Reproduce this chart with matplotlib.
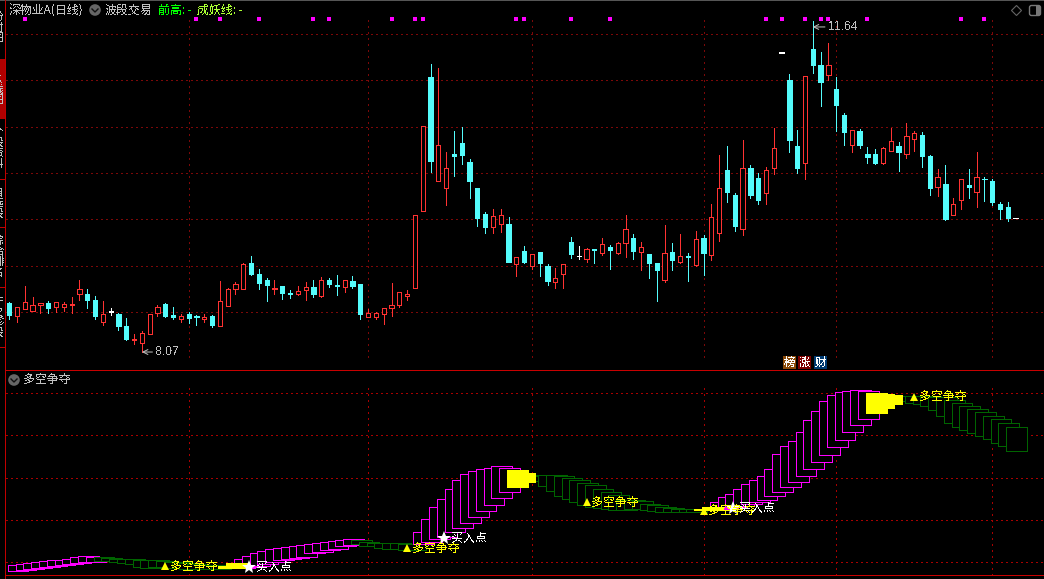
import matplotlib
matplotlib.use('Agg')
import matplotlib.pyplot as plt
from matplotlib.patches import Circle, Rectangle, Polygon, FancyBboxPatch

plt.rcParams['font.family'] = ['Noto Sans CJK SC', 'DejaVu Sans']
plt.rcParams['text.antialiased'] = False

# daily candles, one row per session
opens = [8.60, 8.46, 8.53, 8.51, 8.58, 8.60, 8.55, 8.55, 8.58, 8.69,
         8.69, 8.63, 8.39, 8.50, 8.48, 8.35, 8.20, 8.16, 8.26, 8.49,
         8.59, 8.47, 8.42, 8.48, 8.46, 8.42, 8.46, 8.35, 8.56, 8.75,
         8.75, 9.03, 8.91, 8.85, 8.75, 8.78, 8.70, 8.69, 8.74, 8.77,
         8.67, 8.84, 8.79, 8.77, 8.83, 8.80, 8.44, 8.45, 8.48, 8.54,
         8.58, 8.67, 8.76, 9.59, 11.04, 9.91, 9.84, 10.20, 10.32, 10.12,
         9.84, 9.56, 9.42, 9.45, 9.45, 9.02, 9.16, 9.00, 9.15, 9.00,
         8.82, 8.91, 9.26, 9.10, 9.07, 9.18, 9.14, 9.20, 9.14, 9.24,
         9.30, 9.15, 9.12, 9.03, 8.84, 9.15, 9.04, 9.10, 9.01, 9.30,
         9.11, 9.35, 10.03, 9.76, 9.39, 10.05, 9.95, 9.78, 10.05, 11.30,
         11.00, 10.29, 10.11, 11.34, 11.17, 11.06, 10.91, 10.63, 10.30, 10.45,
         10.21, 10.20, 10.11, 10.24, 10.29, 10.20, 10.37, 10.41, 10.18, 9.85,
         9.88, 9.55, 9.71, 9.87, 9.79, 9.94, 9.91, 9.66, 9.63, 9.51]
highs = [8.61, 8.55, 8.78, 8.66, 8.60, 8.62, 8.61, 8.61, 8.66, 8.85,
         8.75, 8.67, 8.62, 8.54, 8.49, 8.43, 8.26, 8.29, 8.48, 8.57,
         8.60, 8.55, 8.48, 8.50, 8.47, 8.48, 8.47, 8.83, 8.76, 8.82,
         9.03, 9.10, 8.96, 8.87, 8.84, 8.78, 8.74, 8.78, 8.82, 8.84,
         8.88, 8.87, 8.90, 8.85, 8.89, 8.80, 8.53, 8.50, 8.54, 8.81,
         8.71, 8.74, 9.55, 10.51, 11.18, 11.13, 10.23, 10.45, 10.50, 10.15,
         9.84, 9.58, 9.61, 9.61, 9.52, 9.09, 9.21, 9.13, 9.15, 9.02,
         8.97, 9.02, 9.31, 9.21, 9.19, 9.18, 9.30, 9.22, 9.26, 9.55,
         9.34, 9.26, 9.12, 9.03, 9.44, 9.24, 9.34, 9.14, 9.37, 9.33,
         9.66, 10.19, 10.29, 9.78, 10.36, 10.09, 10.00, 10.07, 10.49, 11.30,
         11.07, 10.46, 11.05, 11.64, 11.31, 11.40, 11.04, 10.65, 10.46, 10.47,
         10.28, 10.26, 10.28, 10.49, 10.33, 10.54, 10.45, 10.44, 10.19, 10.04,
         10.09, 9.73, 9.93, 10.04, 10.23, 9.96, 9.94, 9.69, 9.69, 9.51]
lows = [8.42, 8.39, 8.53, 8.51, 8.49, 8.49, 8.50, 8.51, 8.49, 8.63,
        8.54, 8.42, 8.36, 8.47, 8.30, 8.20, 8.15, 8.07, 8.26, 8.46,
        8.44, 8.42, 8.39, 8.38, 8.36, 8.39, 8.34, 8.35, 8.56, 8.69,
        8.75, 8.90, 8.75, 8.62, 8.69, 8.64, 8.65, 8.68, 8.63, 8.66,
        8.66, 8.77, 8.68, 8.72, 8.76, 8.42, 8.44, 8.42, 8.37, 8.46,
        8.55, 8.63, 8.76, 9.59, 10.01, 9.91, 9.65, 9.97, 10.10, 9.73,
        9.43, 9.35, 9.35, 9.36, 9.04, 8.89, 9.03, 8.96, 8.89, 8.79,
        8.76, 8.76, 9.08, 9.07, 9.04, 9.03, 9.11, 8.96, 9.13, 9.09,
        9.07, 8.95, 8.87, 8.62, 8.82, 8.95, 9.03, 8.83, 9.00, 8.90,
        9.06, 9.27, 9.69, 9.37, 9.33, 9.73, 9.66, 9.66, 9.99, 11.30,
        10.23, 10.00, 9.93, 11.08, 10.72, 11.00, 10.45, 10.30, 10.23, 10.27,
        10.11, 10.10, 10.10, 10.24, 10.02, 10.16, 10.24, 10.06, 9.76, 9.75,
        9.49, 9.55, 9.61, 9.73, 9.63, 9.70, 9.65, 9.50, 9.48, 9.51]
closes = [8.47, 8.55, 8.61, 8.58, 8.60, 8.54, 8.61, 8.59, 8.59, 8.75,
          8.63, 8.46, 8.48, 8.50, 8.35, 8.21, 8.21, 8.27, 8.48, 8.55,
          8.46, 8.45, 8.46, 8.43, 8.45, 8.44, 8.36, 8.62, 8.75, 8.80,
          9.02, 8.91, 8.81, 8.79, 8.76, 8.70, 8.69, 8.73, 8.77, 8.69,
          8.85, 8.80, 8.78, 8.85, 8.78, 8.48, 8.49, 8.49, 8.54, 8.58,
          8.71, 8.69, 9.55, 10.51, 10.13, 10.30, 10.05, 10.18, 10.19, 9.91,
          9.51, 9.42, 9.54, 9.55, 9.04, 9.09, 9.04, 9.13, 9.03, 8.83,
          8.87, 9.02, 9.12, 9.10, 9.18, 9.17, 9.23, 9.17, 9.24, 9.39,
          9.16, 9.20, 9.03, 8.95, 9.14, 9.06, 9.10, 9.09, 9.29, 9.14,
          9.52, 9.84, 9.80, 9.43, 10.05, 9.76, 9.71, 10.03, 10.27, 11.30,
          10.36, 10.05, 11.05, 11.17, 10.98, 11.17, 10.73, 10.44, 10.46, 10.30,
          10.17, 10.11, 10.27, 10.35, 10.23, 10.40, 10.43, 10.18, 9.84, 9.96,
          9.50, 9.66, 9.93, 9.85, 9.96, 9.93, 9.69, 9.61, 9.51, 9.51]

signal_days = [2, 24, 27, 32, 39, 41, 49, 52, 53, 65, 66, 72, 77, 97, 99, 102,
               104, 105, 110, 122, 125]
price_levels = [11.5, 11.0, 10.5, 10.0, 9.5, 9.0, 8.5]
month_lines = [23, 46, 67, 89, 106, 126]

# 多空争夺 indicator boxes
box_top = [-1.58, -1.1, -0.63, -0.16, 0.32, 0.79, 0.79, 1.27, 2.21, 2.69,
           2.21, 2.21, 1.9, 1.27, 1.27, 1.27, 0.79, 0.79, 0.79, 0.32,
           0.0, 0.0, -0.47, -0.95, -1.26, -1.58, -1.58, -1.89, -0.63, 1.27,
           2.85, 4.11, 5.06, 6.0, 6.48, 6.95, 7.43, 7.9, 8.38, 8.85,
           9.32, 9.8, 10.27, 10.75, 10.27, 9.3, 8.85, 8.85, 8.85, 8.85,
           8.38, 8.7, 14.22, 20.38, 26.07, 29.86, 34.6, 38.87, 41.71, 43.14,
           44.08, 44.56, 45.5, 44.56, 43.6, 42.19, 41.24, 40.77, 41.24, 41.24,
           40.77, 39.82, 38.87, 37.45, 36.5, 34.6, 33.18, 31.76, 29.39, 29.39,
           29.07, 27.5, 27.02, 26.07, 25.6, 25.12, 25.12, 24.97, 24.97, 26.07,
           28.28, 30.65, 32.08, 34.45, 36.82, 38.71, 40.61, 43.93, 51.0, 54.83,
           57.2, 61.46, 67.15, 71.42, 76.16, 79.0, 80.42, 81.05, 81.37, 80.9,
           80.11, 79.63, 79.16, 78.7, 78.7, 78.7, 78.7, 78.7, 78.37, 78.05,
           76.79, 75.37, 73.95, 72.52, 71.1, 69.05, 67.63, 65.73, 64.0]
box_bottom = [-4.42, -3.8, -3.3, -2.84, -2.37, -1.89, -1.58, -1.1, -0.63, -0.16,
              0.0, 0.48, 0.48, 0.0, -0.47, -0.95, -2.2, -2.84, -2.2, -2.5,
              -2.84, -2.84, -3.16, -3.16, -3.47, -3.47, -3.16, -2.84, -2.84, -2.84,
              -2.2, -1.7, -0.95, 0.0, 0.95, 1.27, 1.9, 2.53, 4.11, 4.74,
              5.53, 6.16, 7.43, 7.9, 8.5, 7.74, 7.43, 6.64, 6.16, 6.16,
              5.69, 5.69, 8.53, 9.64, 10.75, 12.0, 14.07, 16.28, 18.65, 21.49,
              24.33, 27.18, 30.5, 33.34, 35.55, 37.92, 38.87, 38.4, 36.03, 33.66,
              31.29, 29.86, 28.44, 27.02, 26.07, 25.6, 25.12, 24.65, 24.65, 25.12,
              25.12, 24.65, 24.18, 23.7, 23.7, 23.7, 23.55, 23.55, 24.65, 24.49,
              24.97, 25.44, 26.23, 26.55, 27.49, 28.44, 29.55, 31.44, 33.34, 35.71,
              38.08, 40.92, 44.24, 47.56, 50.88, 54.67, 57.99, 61.78, 65.1, 67.94,
              70.63, 73.0, 74.89, 76.8, 76.16, 75.5, 74.89, 74.1, 72.2, 69.36,
              66.05, 64.15, 62.41, 61.3, 59.88, 58.46, 56.57, 54.83, 52.77]
box_kind = 'm'*11 + 'g'*16 + 'y'*2 + 'm'*15 + 'g'*8 + 'm'*12 + 'y'*2 + 'g'*22 + 'y'*2 + 'm'*20 + 'y'*3 + 'g'*16
indicator_levels = [80, 60, 40, 20, 0]

tri_days = [20, 51, 74, 89, 116]
tri_vals = [-2.1, 6.6, 28.4, 24.2, 78.2]
buy_days = [31, 56, 93]
buy_vals = [-2.2, 11.4, 25.6]

RED = '#ff3232'
CYAN = '#54fcfc'
GRID = '#7c0808'
GRID2 = '#a80000'
GRAY = '#c0c0c0'
colors = {'m': '#ff00ff', 'g': '#006400'}

W, H = 1044, 579
fig = plt.figure(figsize=(W/100, H/100), dpi=100, facecolor='black')
ax = fig.add_axes([0, 208/H, 1, 371/H])
ax2 = fig.add_axes([0, 0, 1, 208/H])
for a in (ax, ax2):
    a.set_facecolor('black')
    a.set_xlim(-1.19, 132.65)
    a.axis('off')
ax.set_ylim(7.862, 11.868)
ax2.set_ylim(-8.06, 90.5)

# grid
ax.hlines(price_levels, -0.42, 132.65, color=GRID, lw=0.72, linestyle=(0, (1.4, 4)), antialiased=False, zorder=1)
ax.vlines(month_lines, 8.01, 11.65, color=GRID, lw=0.72, linestyle=(0, (1.4, 5)), antialiased=False, zorder=1)
ax2.hlines(indicator_levels, -0.42, 132.65, color=GRID2, lw=0.72, linestyle=(0, (1.4, 4)), antialiased=False, zorder=1)
ax2.vlines(month_lines, -6.1, 84, color=GRID2, lw=0.72, linestyle=(0, (1.4, 5)), antialiased=False, zorder=1)

# candles
for i in range(len(opens)):
    o, h, l, c = opens[i], highs[i], lows[i], closes[i]
    if c > o:
        col, face = RED, 'black'
    elif c < o:
        col, face = CYAN, CYAN
    else:
        col, face = 'white', 'white'
    ax.vlines(i, l, h, color=col, lw=0.72, antialiased=False, zorder=2)
    ax.bar(i, max(abs(c-o), 0.006), bottom=min(o, c), width=0.56, facecolor=face, edgecolor=col,
           lw=0.72, antialiased=False, zorder=3)

ax.plot(signal_days, [11.66]*len(signal_days), 's', color='#ff00ff', ms=3, mew=0, zorder=4)

ax.annotate('8.07', (17, 8.067), xytext=(9.6, 0), textcoords='offset points', color=GRAY,
            fontsize=8.8, va='center', ha='left', family=['Liberation Sans'],
            arrowprops=dict(arrowstyle='->', color=GRAY, lw=0.72, shrinkA=0, shrinkB=0))
ax.annotate('11.64', (103, 11.577), xytext=(10.8, 0), textcoords='offset points', color=GRAY,
            fontsize=8.8, va='center', ha='left', family=['Liberation Sans'],
            arrowprops=dict(arrowstyle='->', color=GRAY, lw=0.72, shrinkA=0, shrinkB=0))

# indicator boxes, later ones sit over earlier ones
for i in range(len(box_top)):
    kind = box_kind[i]
    if kind == 'y':
        ax2.bar(i-0.19, box_top[i]-box_bottom[i], bottom=box_bottom[i], width=2.65, align='edge',
                facecolor='#ffff00', edgecolor='#ffff00', lw=0.72, antialiased=False, zorder=3)
    else:
        ax2.bar(i-0.19, box_top[i]-box_bottom[i], bottom=box_bottom[i], width=2.65, align='edge',
                facecolor='black', edgecolor=colors[kind], lw=0.72, antialiased=False, zorder=2)

ax2.plot(tri_days, tri_vals, '^', color='#ffff00', ms=6, mew=0, zorder=5)
for d, v in zip(tri_days, tri_vals):
    ax2.annotate('多空争夺', (d, v), xytext=(3.6, 0), textcoords='offset points', color='#ffff00',
                 fontsize=8.6, va='center', ha='left', zorder=6)
ax2.plot([d-0.25 for d in buy_days], buy_vals, '*', color='white', ms=10, mew=0, zorder=5)
for d, v in zip(buy_days, buy_vals):
    ax2.annotate('买入点', (d, v), xytext=(3.6, 0), textcoords='offset points', color='white',
                 fontsize=8.6, va='center', ha='left', zorder=6)

# window chrome on a pixel overlay
ui = fig.add_axes([0, 0, 1, 1], facecolor='none', zorder=10)
ui.set_xlim(0, W)
ui.set_ylim(H, 0)
ui.axis('off')

ui.add_patch(Rectangle((0, 0), W, 1, color='#555555', lw=0))
ui.add_patch(Rectangle((5, 0), 1, H, color='#c00000', lw=0))
ui.add_patch(Rectangle((5, 370), W, 1, color='#c80000', lw=0))
ui.add_patch(Rectangle((5, 575), W, 1, color='#c80000', lw=0))
ui.add_patch(Rectangle((0, 59), 5, 60, color='#b00000', lw=0))
for y in [179, 227, 287, 347]:
    ui.add_patch(Rectangle((0, y), 5, 1, color='#c00000', lw=0))
tabs = [('分时图', 28), ('K线图', 90), ('个股资料', 148), ('自选股', 203), ('综合排名', 257), ('牛叉诊股', 317)]
for name, y in tabs:
    ui.text(-1.5, y, '\n'.join(name), color=GRAY, fontsize=7.8, ha='center', va='center', linespacing=1.05)

ui.text(9, 10, '深物业A(日线)', color=GRAY, fontsize=8.6, va='center')
ui.text(105, 10, '波段交易', color=GRAY, fontsize=8.6, va='center')
ui.text(158, 10, '前高: -', color='#00ff00', fontsize=8.6, va='center')
ui.text(197, 10, '成妖线: -', color='#aaff33', fontsize=8.6, va='center')
ui.text(23, 380, '多空争夺', color=GRAY, fontsize=8.6, va='center')

for cx, cy in [(95, 10), (14, 380)]:
    ui.add_patch(Circle((cx, cy), 5.8, color='#666666', lw=0))
    ui.plot([cx-3, cx, cx+3], [cy-1, cy+2, cy-1], color='#111111', lw=1)

ui.add_patch(Polygon([(1016.5, 5.5), (1021.5, 10.5), (1016.5, 15.5), (1011.5, 10.5)], fill=False, ec='#666666', lw=0.8))
ui.add_patch(FancyBboxPatch((1030, 6), 10, 9, boxstyle='round,pad=0.5,rounding_size=2', fill=False, ec='#777777', lw=1))
ui.add_patch(Rectangle((1036, 6), 3.5, 9, color='#777777', lw=0))

for x, s, col in [(783, '榜', '#8a4a08'), (798, '涨', '#7c0000'), (814, '财', '#003a70')]:
    ui.add_patch(Rectangle((x, 356), 13, 13, color=col, lw=0))
    ui.text(x+6.5, 362.5, s, color='white', fontsize=8.2, ha='center', va='center')

fig.savefig('out.png', dpi=100, facecolor='black')
